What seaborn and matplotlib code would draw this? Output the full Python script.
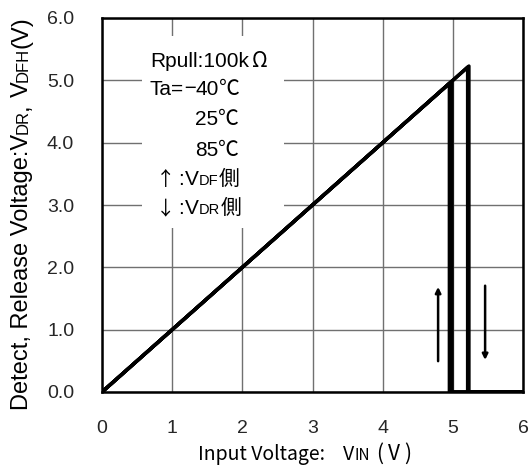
import matplotlib
matplotlib.use("Agg")
import matplotlib.pyplot as plt
import seaborn as sns
import pandas as pd
from matplotlib.patches import Rectangle

# Data: three temperatures, detect (VDF) and release (VDR) voltages
temps = ["-40", "25", "85"]
vdf = [4.95, 4.97, 4.99]
vdr = [5.21, 5.22, 5.23]
x_max = 6.0

xticks = [0, 1, 2, 3, 4, 5, 6]
yticks = [0.0, 1.0, 2.0, 3.0, 4.0, 5.0, 6.0]

rows = []
for t, df_, dr_ in zip(temps, vdf, vdr):
    for i, (xx, yy) in enumerate([(0.0, 0.0), (dr_, dr_), (dr_, 0.0), (x_max, 0.0)]):
        rows.append(dict(series=f"up{t}", order=i, x=xx, y=yy))
    for i, (xx, yy) in enumerate([(x_max, 0.0), (df_, 0.0), (df_, df_), (0.0, 0.0)]):
        rows.append(dict(series=f"dn{t}", order=i, x=xx, y=yy))
data = pd.DataFrame(rows)

sns.set_style("white")
LAT = ["Liberation Sans", "Noto Sans CJK JP", "DejaVu Sans"]
CJK = ["Noto Sans CJK JP", "DejaVu Sans"]
plt.rcParams["font.family"] = LAT

W, H = 531, 466
fig = plt.figure(figsize=(W / 100, H / 100), dpi=100)
ax = fig.add_axes([102 / W, 1 - 392 / H, 421 / W, 374 / H])

for s, g in data.groupby("series"):
    sns.lineplot(data=g, x="x", y="y", sort=False, estimator=None, ax=ax,
                 color="black", lw=2.4, zorder=3)

ax.set_xlim(0, 6)
ax.set_ylim(0, 6)
ax.set_xticks(xticks)
ax.set_xticklabels([str(v) for v in xticks], fontsize=14)
ax.set_yticks(yticks)
ax.set_yticklabels([f"{v:.1f}" for v in yticks], fontsize=14)
ax.tick_params(axis="x", direction="in", length=0, pad=20)
ax.tick_params(axis="y", direction="in", length=0, pad=20)
ax.grid(True, color="#707070", lw=1.0, zorder=0)
for sp in ax.spines.values():
    sp.set_color("black")
    sp.set_linewidth(1.8)
ax.set_xlabel("")
ax.set_ylabel("")

renderer = fig.canvas.get_renderer()


def seq(pieces, px, py, rotation=0):
    """Place text pieces one after another; px, py in pixels from top-left (baseline start)."""
    pos = px if rotation == 0 else py
    for text, size, fam, gap in pieces:
        pos += gap if rotation == 0 else -gap
        if rotation == 0:
            fx, fy = pos / W, 1 - py / H
        else:
            fx, fy = px / W, 1 - pos / H
        t = fig.text(fx, fy, text, fontsize=size, family=fam, rotation=rotation,
                     rotation_mode="anchor", ha="left", va="baseline", color="black")
        bb = t.get_window_extent(renderer)
        if rotation == 0:
            pos += bb.width
        else:
            pos -= bb.height


# axis labels
seq([("Input Voltage:", 14, CJK, 0), ("V", 14, CJK, 18), ("IN", 11, CJK, 0),
     ("(", 15, CJK, 6), ("V", 15, CJK, 5), (")", 15, CJK, 5)], 198, 460)
seq([("Detect, Release Voltage:V", 17, LAT, 0), ("DR", 12, LAT, 0), (",", 17, LAT, 0),
     ("V", 17, LAT, 6), ("DFH", 12, LAT, 0), ("(V)", 17, LAT, 0)], 28, 410, rotation=90)

# white annotation box
ax.add_patch(Rectangle((0.095, 0.439), 0.338, 0.513, transform=ax.transAxes,
                       facecolor="white", edgecolor="none", zorder=2))
seq([("Rpull:100k", 15, LAT, 0), ("Ω", 15, CJK, 3)], 150, 67)
seq([("Ta=", 15, LAT, 0), ("\u2212", 15, CJK, 0), ("40", 15, LAT, 0), ("℃", 15, CJK, 0)], 150, 95)
seq([("25", 15, LAT, 0), ("℃", 15, CJK, 0)], 195, 125)
seq([("85", 15, LAT, 0), ("℃", 15, CJK, 0)], 195, 156)
seq([("↑", 14, CJK, 0), (":", 15, LAT, 3), ("V", 15, LAT, 1), ("DF", 10.5, LAT, 0),
     ("側", 15, CJK, 0)], 156, 185)
seq([("↓", 14, CJK, 0), (":", 15, LAT, 3), ("V", 15, LAT, 1), ("DR", 10.5, LAT, 0),
     ("側", 15, CJK, 0)], 156, 214)

# arrows
ax.annotate("", xy=(4.79, 1.73), xytext=(4.79, 0.45),
            arrowprops=dict(arrowstyle="-|>", color="black", lw=1.8, mutation_scale=8))
ax.annotate("", xy=(5.46, 0.47), xytext=(5.46, 1.75),
            arrowprops=dict(arrowstyle="-|>", color="black", lw=1.8, mutation_scale=8))

fig.savefig("out.png", dpi=100)
